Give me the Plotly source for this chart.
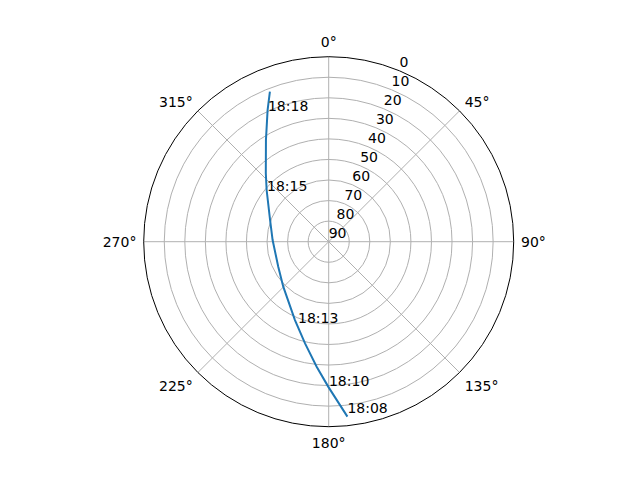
import plotly.graph_objects as go

# satellite pass, azimuth (deg, clockwise from north) and elevation (deg)
track_az = [173.9, 180.2, 185.5, 193.1, 203.3, 225.3, 243.6, 271.7, 290.3, 309.8, 317.4, 328.3, 335.1, 338.6]
track_el = [4.4, 19.5, 28.9, 39.2, 48.5, 58.9, 62.6, 62.7, 59.6, 50.7, 44.8, 31.9, 19.4, 11.6]

# time labels along the track
label_text = ["18:08", "18:10", "18:13", "18:15", "18:18"]
label_az = [173.9, 179.9, 199.8, 307.7, 334.4]
label_el = [4.4, 18.3, 45.9, 52.1, 21.6]

angle_ticks = [0, 45, 90, 135, 180, 225, 270, 315]
elev_ticks = [0, 10, 20, 30, 40, 50, 60, 70, 80, 90]

font = dict(family="DejaVu Sans", size=14, color="black")

# page body has an 8px margin, so pull the plot back by that much
off = 8
fig = go.Figure()
fig.add_trace(go.Scatterpolar(
    theta=track_az, r=[90 - e for e in track_el], mode="lines",
    line=dict(color="#1f77b4", width=2), showlegend=False))
fig.add_trace(go.Scatterpolar(
    theta=label_az, r=[90 - e for e in label_el], mode="text",
    text=label_text, textposition="top right", textfont=font,
    showlegend=False))

# radial tick labels along the 22.5 deg line, up and right of each ring
fig.add_trace(go.Scatterpolar(
    theta=[22.5] * len(elev_ticks), r=[90 - e for e in elev_ticks], mode="text",
    text=[str(e) for e in elev_ticks], textposition="top right",
    textfont=font, cliponaxis=False, showlegend=False, hoverinfo="skip"))

fig.update_layout(
    width=640, height=480,
    paper_bgcolor="white",
    margin=dict(l=0, r=0, t=0, b=0),
    font=font,
    polar=dict(
        domain=dict(x=[(143.7 - off) / 640, (513.7 - off) / 640],
                    y=[1 - (426.7 - off) / 480, 1 - (56.7 - off) / 480]),
        bgcolor="white",
        angularaxis=dict(
            rotation=90, direction="clockwise",
            tickvals=angle_ticks, ticktext=[f"{a}°" for a in angle_ticks],
            ticks="outside", ticklen=4, tickcolor="rgba(0,0,0,0)",
            showline=True, linecolor="black", linewidth=1,
            gridcolor="#b0b0b0", gridwidth=1, tickfont=font),
        radialaxis=dict(
            range=[0, 90], angle=67.5,
            tickvals=[90 - e for e in elev_ticks], showticklabels=False,
            ticks="", showline=False, gridcolor="#b0b0b0", gridwidth=1),
    ),
)

fig.write_html("out.html")
